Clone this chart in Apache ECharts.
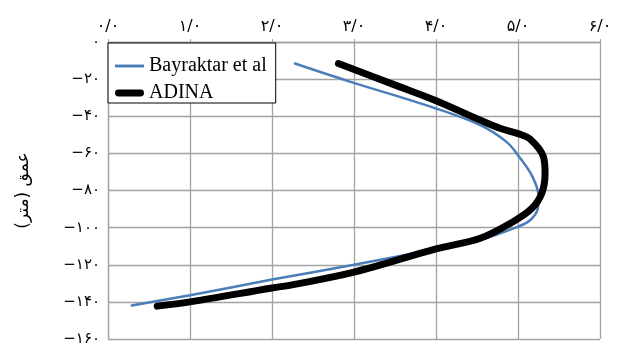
<!DOCTYPE html>
<html>
<head>
<meta charset="utf-8">
<script src="https://cdn.jsdelivr.net/npm/echarts@6/dist/echarts.min.js"></script>
<style>
  html, body { margin: 0; padding: 0; background: #fff; }
  #chart { width: 617px; height: 350px; }
</style>
</head>
<body>
<div id="chart"></div>
<script>
// Tick labels (Persian digits)
var xTickValues = [0, 1, 2, 3, 4, 5, 6];
var xTickLabels = ['۰/۰', '۱/۰', '۲/۰', '۳/۰', '۴/۰', '۵/۰', '۶/۰'];
var yTickValues = [0, -20, -40, -60, -80, -100, -120, -140, -160];
var yTickLabels = ['۰', '−۲۰', '−۴۰', '−۶۰', '−۸۰', '−۱۰۰', '−۱۲۰', '−۱۴۰', '−۱۶۰'];

// Series names
var seriesNames = ['Bayraktar et al', 'ADINA'];

// Bayraktar et al profile
var bayraktarX = [2.28, 2.91, 4.00, 4.54, 4.86, 5.00, 5.17, 5.25, 5.24, 5.15, 5.00, 4.54, 4.00, 3.00, 2.00, 1.00, 0.29];
var bayraktarDepth = [-11.6, -20.8, -35.8, -44.8, -53.8, -61.0, -72.0, -83.0, -90.0, -95.9, -99.5, -106.6, -111.5, -120.0, -128.0, -136.4, -142.0];

// ADINA profile
var adinaX = [2.81, 3.52, 4.00, 4.54, 4.78, 5.01, 5.15, 5.31, 5.33, 5.29, 5.17, 4.94, 4.54, 4.00, 3.00, 2.26, 2.00, 1.00, 0.60];
var adinaDepth = [-11.6, -23.5, -31.6, -42.1, -46.5, -49.5, -52.4, -61.8, -70.8, -81.5, -89.6, -96.8, -105.7, -111.5, -124.0, -130.7, -132.5, -140.0, -142.3];

function zip(xs, ys) {
  return xs.map(function (x, i) { return [x, ys[i]]; });
}
function lookup(values, labels) {
  return function (v) {
    var i = values.indexOf(Math.round(v * 1000) / 1000);
    return i >= 0 ? labels[i] : '';
  };
}

var blue = '#4a7ebb';
var gridColor = '#a3a3a3';
var serifStack = "'Liberation Serif', 'DejaVu Sans', serif";
var labelStack = "'DejaVu Sans', sans-serif";

var chart = echarts.init(document.getElementById('chart'), null, { renderer: 'canvas' });
chart.setOption({
  animation: false,
  backgroundColor: '#fff',
  grid: { left: 108, right: 17, top: 42, bottom: 11, containLabel: false },
  legend: {
    data: [
      { name: seriesNames[0], icon: 'path://M0,0H30V3H0Z', itemStyle: { color: blue } },
      { name: seriesNames[1], icon: 'path://M3.5,0H26.5A3.5,3.5,0,0,1,26.5,7H3.5A3.5,3.5,0,0,1,3.5,0Z', itemStyle: { color: '#000' } }
    ],
    orient: 'vertical',
    left: 108,
    top: 43,
    itemWidth: 29,
    itemHeight: 14,
    itemGap: 7,
    padding: [13, 9, 0, 7],
    backgroundColor: '#fff',
    borderColor: '#000',
    borderWidth: 1,
    borderRadius: 0,
    textStyle: { color: '#000', fontSize: 20, lineHeight: 20, fontFamily: serifStack }
  },
  xAxis: {
    type: 'value',
    position: 'top',
    min: 0,
    max: 6,
    interval: 1,
    axisLine: { show: true, lineStyle: { color: gridColor, width: 1.3 } },
    axisTick: { show: true, length: 3, lineStyle: { color: gridColor } },
    axisLabel: {
      margin: 7,
      fontSize: 16,
      color: '#000',
      fontFamily: labelStack,
      formatter: lookup(xTickValues, xTickLabels)
    },
    splitLine: { show: true, lineStyle: { color: gridColor, width: 1.3 } }
  },
  yAxis: {
    type: 'value',
    min: -160,
    max: 0,
    interval: 20,
    name: 'عمق (متر)',
    nameLocation: 'middle',
    nameRotate: 90,
    nameGap: 76,
    nameTextStyle: { fontSize: 17, color: '#000', fontFamily: labelStack },
    axisLine: { show: true, lineStyle: { color: gridColor, width: 1.3 } },
    axisTick: { show: false },
    axisLabel: {
      margin: 8,
      fontSize: 15,
      color: '#000',
      fontFamily: labelStack,
      formatter: lookup(yTickValues, yTickLabels)
    },
    splitLine: { show: true, lineStyle: { color: gridColor, width: 1.3 } }
  },
  series: [
    {
      name: seriesNames[0],
      type: 'line',
      data: zip(bayraktarX, bayraktarDepth),
      smooth: 0.35,
      symbol: 'none',
      z: 3,
      lineStyle: { color: blue, width: 2.5, cap: 'round' },
      itemStyle: { color: blue }
    },
    {
      name: seriesNames[1],
      type: 'line',
      data: zip(adinaX, adinaDepth),
      smooth: 0.35,
      symbol: 'none',
      z: 4,
      lineStyle: { color: '#000', width: 7, cap: 'round', join: 'round' },
      itemStyle: { color: '#000' }
    }
  ]
});
</script>
</body>
</html>
